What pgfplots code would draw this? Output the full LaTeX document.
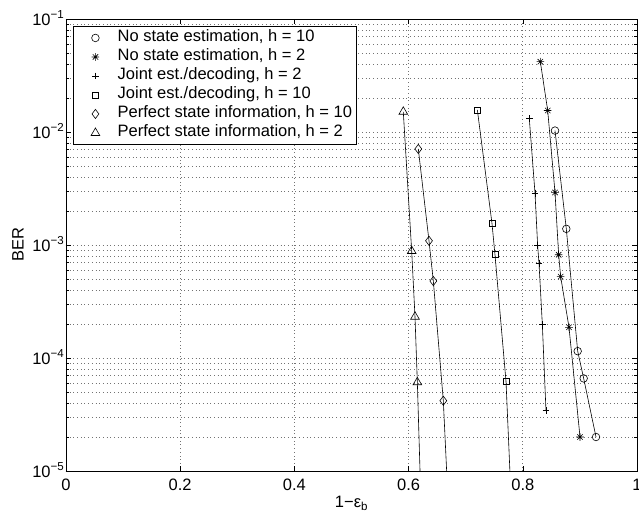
\documentclass[border=0pt]{standalone}
\usepackage{fontspec}
\setmainfont{Liberation Sans}
\usepackage{pgfplots}
\pgfplotsset{compat=1.18}
\pgfdeclareplotmark{mstar}{%
  \pgfpathmoveto{\pgfqpoint{-\pgfplotmarksize}{0pt}}\pgfpathlineto{\pgfqpoint{\pgfplotmarksize}{0pt}}%
  \pgfpathmoveto{\pgfqpoint{0pt}{-\pgfplotmarksize}}\pgfpathlineto{\pgfqpoint{0pt}{\pgfplotmarksize}}%
  \pgfpathmoveto{\pgfqpoint{-.707\pgfplotmarksize}{-.707\pgfplotmarksize}}\pgfpathlineto{\pgfqpoint{.707\pgfplotmarksize}{.707\pgfplotmarksize}}%
  \pgfpathmoveto{\pgfqpoint{-.707\pgfplotmarksize}{.707\pgfplotmarksize}}\pgfpathlineto{\pgfqpoint{.707\pgfplotmarksize}{-.707\pgfplotmarksize}}%
  \pgfusepathqstroke}
\begin{document}
\fontsize{16.5bp}{19bp}\selectfont
\begin{tikzpicture}
\begin{axis}[
  scale only axis, width=571bp, height=452bp,
  xmin=0, xmax=1, ymin=1e-5, ymax=1e-1, ymode=log,
  xtick={0,0.2,0.4,0.6,0.8,1}, xticklabels={0,0.2,0.4,0.6,0.8,1},
  ytick={1e-5,1e-4,1e-3,1e-2,1e-1},
  yticklabels={10\textsuperscript{−5},10\textsuperscript{−4},10\textsuperscript{−3},10\textsuperscript{−2},10\textsuperscript{−1}},
  grid=both,
  major grid style={dash pattern=on 0.7bp off 3bp, line width=0.7bp, black!55},
  minor grid style={dash pattern=on 0.7bp off 3bp, line width=0.7bp, black!55},
  tick style={black, line width=0.6bp},
  major tick length=5bp, minor tick length=3bp,
  axis line style={line width=0.9bp},
  xticklabel style={inner sep=0pt, yshift=-8bp},
  yticklabel style={inner sep=1.5bp, anchor=base east, yshift=-6bp},
  xlabel={1−ε\textsubscript{b}},
  xlabel style={at={(axis description cs:0.5,-0.071)}, anchor=center},
  ylabel={BER},
  ylabel style={at={(axis description cs:-0.084,0.5)}, anchor=center},
  legend style={at={(0.0117,0.9845)}, anchor=north west, draw=black, line width=0.9bp, fill=white,
     inner xsep=2bp,
     nodes={text height=11bp, text depth=3bp, inner ysep=2.5bp, inner xsep=2bp}},
  legend cell align=left,
  legend image code/.code={\path (0bp,0bp) (40bp,0bp); \draw[#1] plot[only marks] coordinates {(20bp,0bp)};},
  every axis plot/.append style={black, line width=0.6bp, mark options={solid, line width=0.6bp}},
]
\addlegendimage{mark=o, mark size=3.8bp, black, line width=0.6bp}
\addlegendentry{No state estimation, h = 10}
\addlegendimage{mark=mstar, mark size=3.8bp, black, line width=0.6bp}
\addlegendentry{No state estimation, h = 2}
\addlegendimage{mark=+, mark size=3.3bp, black, line width=0.6bp}
\addlegendentry{Joint est./decoding, h = 2}
\addlegendimage{mark=square, mark size=3bp, black, line width=0.6bp}
\addlegendentry{Joint est./decoding, h = 10}
\addlegendimage{mark=diamond, mark size=4.6bp, black, line width=0.6bp}
\addlegendentry{Perfect state information, h = 10}
\addlegendimage{mark=triangle, mark size=5bp, black, line width=0.6bp}
\addlegendentry{Perfect state information, h = 2}

\addplot[forget plot, mark=o, mark size=3.8bp] coordinates {
(0.8564,1.03e-2) (0.8762,1.39e-3) (0.8961,1.15e-4) (0.9066,6.6e-5) (0.9282,2.0e-5)};
\addplot[forget plot, mark=mstar, mark size=3.8bp] coordinates {
(0.8307,4.19e-2) (0.8436,1.55e-2) (0.8564,2.92e-3) (0.8628,8.2e-4) (0.8663,5.25e-4) (0.8809,1.87e-4) (0.9002,2.0e-5)};
\addplot[forget plot, mark=+, mark size=3.3bp] coordinates {
(0.8114,1.31e-2) (0.8214,2.87e-3) (0.8260,9.86e-4) (0.8284,6.84e-4) (0.8342,1.99e-4) (0.8406,3.42e-5)};
\addplot[forget plot, mark=square, mark size=3bp] coordinates {
(0.7204,1.57e-2) (0.7460,1.56e-3) (0.7513,8.2e-4) (0.7706,6.2e-5) (0.7860,1e-6)};
\addplot[forget plot, mark=diamond, mark size=4.6bp] coordinates {
(0.6170,7.08e-3) (0.6357,1.09e-3) (0.6433,4.8e-4) (0.6608,4.19e-5) (0.6760,1e-6)};
\addplot[forget plot, mark=triangle, mark size=5bp] coordinates {
(0.5907,1.51e-2) (0.6054,8.85e-4) (0.6112,2.32e-4) (0.6153,6.1e-5) (0.6260,1e-6)};
\end{axis}
\pgfresetboundingbox
\path[use as bounding box] ([xshift=-66bp,yshift=-47bp]current axis.south west) rectangle ([xshift=2bp,yshift=19bp]current axis.north east);
\end{tikzpicture}
\end{document}
